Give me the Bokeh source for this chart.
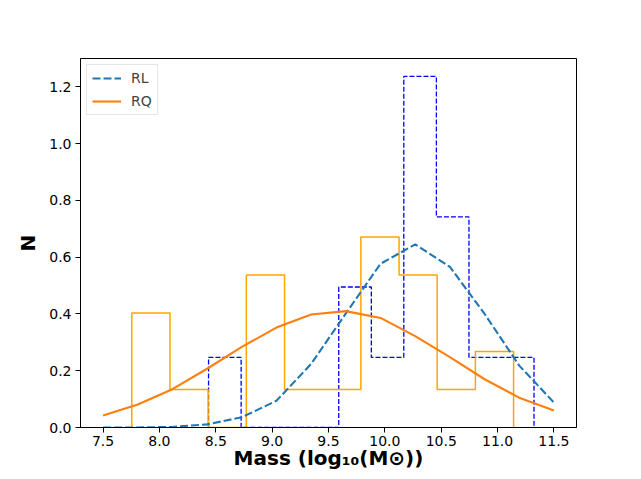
from bokeh.plotting import figure
from bokeh.models import Range1d, FixedTicker, PrintfTickFormatter, Legend, LegendItem
from bokeh.embed import file_html
from bokeh.resources import INLINE

# ---------------- data ----------------
MASS_GRID = [7.5, 7.808, 8.115, 8.423, 8.731, 9.038, 9.346, 9.654,
             9.962, 10.269, 10.577, 10.885, 11.192, 11.5]
RL_KDE = [0.0, 0.0, 0.002, 0.011, 0.036, 0.094, 0.224, 0.402,
          0.577, 0.645, 0.566, 0.400, 0.218, 0.088]
RQ_KDE = [0.042, 0.081, 0.135, 0.207, 0.284, 0.352, 0.398, 0.410,
          0.386, 0.322, 0.248, 0.170, 0.105, 0.060]

RL_EDGES = [8.436, 8.725, 9.014, 9.302, 9.591, 9.880, 10.168, 10.457,
            10.746, 11.034, 11.323]
RL_DENSITY = [0.247, 0.0, 0.0, 0.0, 0.495, 0.247, 1.237, 0.742, 0.247, 0.247]

RQ_EDGES = [7.755, 8.094, 8.432, 8.771, 9.110, 9.448, 9.787, 10.126,
            10.464, 10.803, 11.142]
RQ_DENSITY = [0.403, 0.134, 0.0, 0.537, 0.134, 0.134, 0.671, 0.537, 0.134, 0.268]

X_TICKS = [7.5, 8.0, 8.5, 9.0, 9.5, 10.0, 10.5, 11.0, 11.5]
Y_TICKS = [0.0, 0.2, 0.4, 0.6, 0.8, 1.0, 1.2]
SERIES_LABELS = ["RL", "RQ"]
X_TITLE = "Mass (log\u2081\u2080(M\u2299))"
Y_TITLE = "N"


def step_outline(edges, heights):
    xs = [edges[0]]
    ys = [0.0]
    for i, h in enumerate(heights):
        xs += [edges[i], edges[i + 1]]
        ys += [h, h]
    xs.append(edges[-1])
    ys.append(0.0)
    return xs, ys


FONT = "DejaVu Sans"

p = figure(frame_width=496, frame_height=369,
           min_border_left=80, min_border_right=49,
           min_border_top=58, min_border_bottom=44,
           x_range=Range1d(7.3, 11.7), y_range=Range1d(0, 1.3),
           output_backend="svg", toolbar_location=None)

p.background_fill_color = "white"
p.border_fill_color = "white"
p.grid.visible = False
p.outline_line_color = "black"
p.outline_line_width = 1

for ax in (p.xaxis, p.yaxis):
    ax.major_tick_out = 5
    ax.major_tick_in = 0
    ax.minor_tick_out = 0
    ax.minor_tick_in = 0
    ax.major_tick_line_color = "black"
    ax.major_tick_line_width = 1
    ax.axis_line_color = "black"
    ax.axis_line_width = 1
    ax.major_label_text_font = FONT
    ax.major_label_text_font_size = "14px"
    ax.major_label_text_color = "black"
    ax.major_label_standoff = 4
    ax.formatter = PrintfTickFormatter(format="%.1f")
    ax.axis_label_text_font = FONT
    ax.axis_label_text_font_size = "20px"
    ax.axis_label_text_font_style = "bold"
    ax.axis_label_text_color = "black"

p.xaxis.ticker = FixedTicker(ticks=X_TICKS)
p.yaxis.ticker = FixedTicker(ticks=Y_TICKS)
p.xaxis.axis_label = X_TITLE
p.yaxis.axis_label = Y_TITLE
p.xaxis.major_label_standoff = 3
p.xaxis.axis_label_standoff = -3
p.yaxis.axis_label_standoff = 6

# histograms (step outlines)
bx, by = step_outline(RL_EDGES, RL_DENSITY)
p.line(bx, by, line_color="blue", line_width=1.3, line_dash="5 2")
ox, oy = step_outline(RQ_EDGES, RQ_DENSITY)
p.line(ox, oy, line_color="orange", line_width=1.5)

# KDE curves
rl = p.line(MASS_GRID, RL_KDE, line_color="#1f77b4", line_width=2.1, line_dash="8 3")
rq = p.line(MASS_GRID, RQ_KDE, line_color="#ff7f0e", line_width=2.1)

legend = Legend(items=[LegendItem(label=SERIES_LABELS[0], renderers=[rl]),
                       LegendItem(label=SERIES_LABELS[1], renderers=[rq])],
                location="top_left", margin=6, padding=5, spacing=7,
                glyph_width=29, glyph_height=14, label_height=14,
                label_standoff=10, label_text_font=FONT,
                label_text_font_size="14px",
                border_line_color="#cccccc", border_line_width=1,
                background_fill_alpha=0.8)
p.add_layout(legend)

open("out.html", "w").write(file_html(p, INLINE))
